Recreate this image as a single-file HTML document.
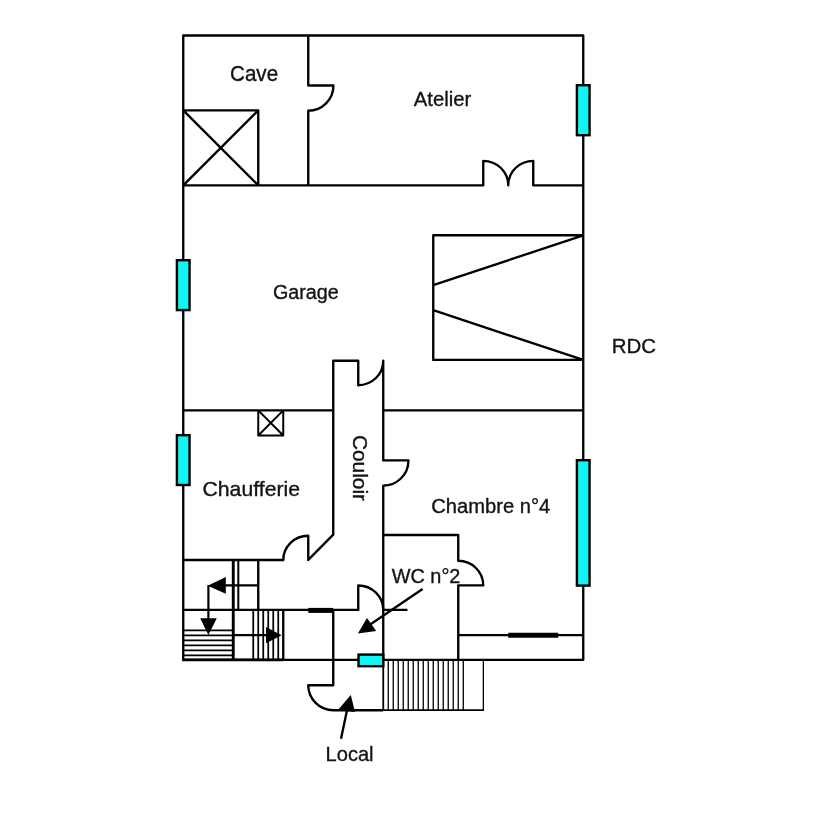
<!DOCTYPE html>
<html><head><meta charset="utf-8">
<style>
html,body{margin:0;padding:0;background:#fff;}
body{width:837px;height:816px;overflow:hidden;}
svg{display:block;}
text{font-family:"Liberation Sans",sans-serif;font-size:20px;fill:#141414;stroke:#141414;stroke-width:0.35px;}
.w{stroke:#000;stroke-width:2.35;fill:none;stroke-linecap:butt;stroke-linejoin:round;}
.s{stroke:#000;stroke-width:1.75;fill:none;}
.t{stroke:#000;stroke-width:1.3;fill:none;}
.k{stroke:#000;stroke-width:5;fill:none;}
.c{fill:#10f4f4;stroke:#000;stroke-width:2.4;}
.a{fill:#000;stroke:none;}
</style></head><body>
<svg width="837" height="816" viewBox="0 0 837 816">
<rect width="837" height="816" fill="#fff"/>
<path class="w" d="M183.25 35.47 H583.25 V659.85 H183.25 Z"/>
<path class="w" d="M183.25 185.32 H483.25 V160.84 A25.0 24.475 0 0 1 508.25 185.32 A25.0 24.475 0 0 1 533.25 160.84 V185.32 H583.25"/>
<path class="w" d="M308.25 35.47 V85.52 H333.45 A25.2 25.175 0 0 1 308.25 110.7 V185.32"/>
<path class="w" d="M183.25 110.4 H258.25 V185.32 M183.25 110.4 L258.25 185.32 M258.25 110.4 L183.25 185.32"/>
<path class="w" d="M583.25 235.27 H433.25 V359.94 H583.25 M583.25 235.27 L433.25 285.22 M433.25 310.2 L583.25 359.94"/>
<path class="w" d="M183.25 410.4 H333.25 M383.25 410.4 H583.25"/>
<path class="w" style="stroke-width:2" d="M258.25 410.4 V435.46999999999997 H283.25 V410.4 M258.25 410.4 L283.25 435.46999999999997 M283.25 410.4 L258.25 435.46999999999997"/>
<path class="w" d="M283.25 559.95 A25.0 24.175 0 0 1 308.25 535.77 V559.95 L333.25 534.6700000000001 V360.7 H358.25 V385.2 A25.0 24.5 0 0 0 383.25 360.7 V460.40000000000003 H408.45 A25.2 25.275000000000002 0 0 1 383.25 485.66999999999996 V659.85"/>
<path class="w" d="M183.25 559.95 H284.25"/>
<path class="w" style="stroke-width:2.9" d="M233.25 559.95 V659.85"/>
<path class="w" style="stroke-width:2" d="M238.3 559.95 V609.9"/>
<path class="w" d="M258.25 559.95 V609.9 M183.25 609.9 H358.25 V585.52 A25.0 24.375 0 0 1 383.25 609.9 H407.45 M283.25 609.9 V659.85"/>
<path class="k" d="M308.25 610.4 H333.25"/>
<path class="w" style="stroke-width:2.9" d="M182.25 659.85 H283.25"/>
<path class="s" d="M183.25 655.32 H233.25 M183.25 650.34 H233.25 M183.25 645.36 H233.25 M183.25 640.38 H233.25 M183.25 635.4 H233.25 M183.25 630.42 H233.25"/>
<path class="s" d="M278.25 609.9 V659.85 M273.25 609.9 V659.85 M268.25 609.9 V659.85 M263.25 609.9 V659.85 M258.25 609.9 V659.85 M253.25 609.9 V659.85"/>
<path class="w" style="stroke-width:2.2" d="M258.25 585.37 H220 M208.4 585.37 V622 M233.25 635.17 H270"/>
<path class="a" d="M207.7 585.67 L225.8 577 V593.7 Z M208.4 635 L200.2 618.3 H216.8 Z M281.6 635.17 L266 627 V643.2 Z"/>
<path class="w" d="M383.25 534.97 H458.25 V560.75 A25.0 24.575000000000003 0 0 1 483.25 585.37 H458.25 V659.85 M458.25 635.17 H583.25"/>
<path class="k" d="M508.25 635.17 H558.25"/>
<path class="w" d="M333.25 609.9 V685.27 H308.25 A25.0 24.975 0 0 0 333.25 710.2 H383.25"/>
<path class="t" d="M388.25 659.85 V710.2 M393.25 659.85 V710.2 M398.25 659.85 V710.2 M403.25 659.85 V710.2 M408.25 659.85 V710.2 M413.25 659.85 V710.2 M418.25 659.85 V710.2 M423.25 659.85 V710.2 M428.25 659.85 V710.2 M433.25 659.85 V710.2 M438.25 659.85 V710.2 M443.25 659.85 V710.2 M448.25 659.85 V710.2 M453.25 659.85 V710.2 M458.25 659.85 V710.2 M463.3 659.85 V710.2 M483.35 659.85 V711.1"/>
<path class="t" style="stroke-width:1.8" d="M383.25 710.2 H483.95"/>
<path class="t" d="M383.25 659.85 V710.2" style="stroke-width:1.8"/>
<rect class="c" x="576.90" y="85.20" width="12.65" height="50.00"/>
<rect class="c" x="176.90" y="260.20" width="12.65" height="49.90"/>
<rect class="c" x="176.90" y="435.20" width="12.65" height="49.80"/>
<rect class="c" x="576.90" y="460.20" width="12.65" height="125.40"/>
<rect class="c" x="358.50" y="654.60" width="24.80" height="11.60"/>
<path class="w" d="M422.6 589 L368 626 M341 738.8 L347.5 708"/>
<path class="a" d="M357.9 633.6 L367 618 L376.2 631.1 Z M350.8 695.1 L337.9 710 L355 711.9 Z"/>
<g opacity="0.999">
<text transform="translate(230 81) scale(1.031 1.1)">Cave</text>
<text transform="translate(413.7 105.7) scale(1.016 1.05)">Atelier</text>
<text transform="translate(272.9 299.4) scale(0.989 1.05)">Garage</text>
<text transform="translate(611.8 353.2) scale(1.022 1.05)">RDC</text>
<text transform="translate(202.5 495.7) scale(1.061 1.05)">Chaufferie</text>
<text transform="translate(352.65 434.9) rotate(90) scale(1.045 1.05)">Couloir</text>
<text transform="translate(431.3 513.1) scale(1.009 1.05)">Chambre n°4</text>
<text transform="translate(391.7 582.8) scale(0.994 1.05)">WC n°2</text>
<text transform="translate(325.55 761.45) scale(1.004 1.02)">Local</text>
</g>
</svg>
</body></html>
